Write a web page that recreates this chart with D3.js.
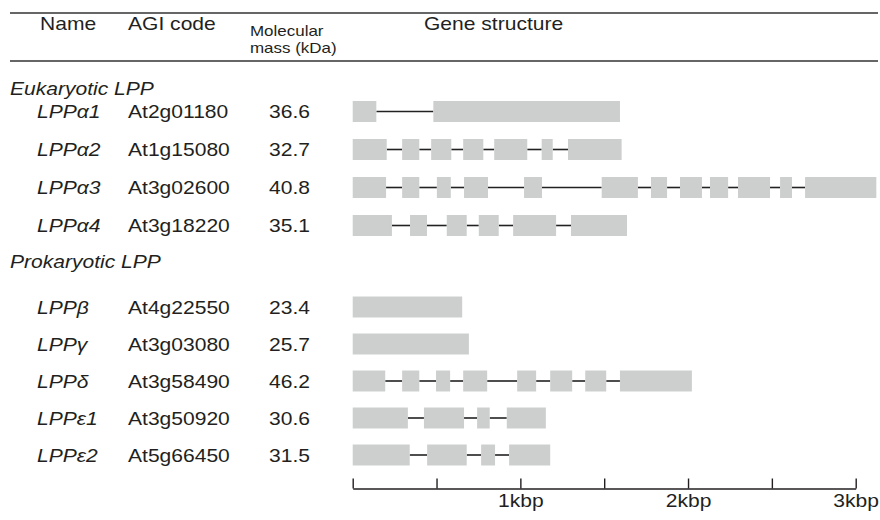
<!DOCTYPE html>
<html>
<head>
<meta charset="utf-8">
<script src="https://cdn.jsdelivr.net/npm/d3@7"></script>
<style>
  body { margin: 0; background: #fff; }
  text { font-family: "Liberation Sans", Arial, Helvetica, sans-serif; fill: #231f20; }
</style>
</head>
<body>
<svg id="drawing_region"></svg>
<script>
// ---- data ----
const headerLabels = ["Name", "AGI code", "Molecular", "mass (kDa)", "Gene structure"];
const groupLabels = ["Eukaryotic LPP", "Prokaryotic LPP"];
const names = ["LPPα1", "LPPα2", "LPPα3", "LPPα4", "LPPβ", "LPPγ", "LPPδ", "LPPε1", "LPPε2"];
const groupOf = [0, 0, 0, 0, 1, 1, 1, 1, 1];
const agiCodes = ["At2g01180", "At1g15080", "At3g02600", "At3g18220",
                  "At4g22550", "At3g03080", "At3g58490", "At3g50920", "At5g66450"];
const masses = ["36.6", "32.7", "40.8", "35.1", "23.4", "25.7", "46.2", "30.6", "31.5"];
// exon start/end in bp
const exons = [
    [[0, 141], [481, 1594]],
    [[0, 203], [295, 397], [468, 588], [659, 779], [844, 1041], [1127, 1193], [1284, 1604]],
    [[0, 199], [295, 397], [502, 585], [664, 807], [1022, 1129], [1485, 1701],
     [1779, 1875], [1952, 2083], [2131, 2239], [2298, 2489], [2549, 2620], [2698, 3123]],
    [[0, 234], [342, 443], [561, 680], [752, 871], [957, 1213], [1302, 1636]],
    [[0, 653]],
    [[0, 693]],
    [[0, 194], [295, 397], [497, 581], [659, 802], [981, 1094], [1178, 1309], [1387, 1512], [1594, 2023]],
    [[0, 329], [425, 664], [742, 817], [919, 1152]],
    [[0, 340], [444, 680], [766, 849], [933, 1178]]
];
const tickValues = [0, 500, 1000, 1500, 2000, 2500, 3000];
const tickLabels = ["", "", "1kbp", "", "2kbp", "", "3kbp"];

// ---- layout ----
const width = 880, height = 520;
const SX = 1.17;           // the figure's type is a little wider than Arial
const fontSize = 18;
const groupLayout = [
    { labelY: 95, firstRow: 111.5, step: 38 },
    { labelY: 268, firstRow: 307, step: 37 }
];
const boxH = 21;
const axisY = 488.5;

const svg = d3.select("#drawing_region")
    .attr("width", width)
    .attr("height", height);

const xscale = d3.scaleLinear()
    .domain([0, 3000])
    .range([352.7, 855.7]);

function rowY(i) {
    const g = groupOf[i];
    const idx = i - groupOf.indexOf(g);
    return groupLayout[g].firstRow + idx * groupLayout[g].step;
}

function addText(x, y, str, size, italic) {
    return svg.append("text")
        .attr("transform", `translate(${x},${y}) scale(${SX},1)`)
        .attr("font-size", size)
        .attr("font-style", italic ? "italic" : "normal")
        .text(str);
}

// rules
[13, 61].forEach(y => {
    svg.append("line")
        .attr("x1", 10).attr("x2", 878)
        .attr("y1", y).attr("y2", y)
        .attr("stroke", "#333")
        .attr("stroke-width", 1.4);
});

// header
addText(40, 30, headerLabels[0], fontSize);
addText(128, 30, headerLabels[1], fontSize);
addText(250, 35.5, headerLabels[2], 14.5);
addText(250, 52.5, headerLabels[3], 14.5);
addText(424, 30, headerLabels[4], fontSize);

// group labels
groupLabels.forEach((label, g) => addText(10, groupLayout[g].labelY, label, fontSize, true));

// table rows
names.forEach((name, i) => {
    const base = rowY(i) + 6.5;
    addText(37, base, name, fontSize, true);
    addText(128, base, agiCodes[i], fontSize);
    addText(269, base, masses[i], fontSize);
});

// gene structures
const genes = svg.append("g");
const rows = genes.selectAll("g.gene")
    .data(exons)
    .join("g")
    .attr("class", "gene")
    .attr("transform", (d, i) => `translate(0,${rowY(i)})`);

rows.selectAll("line")
    .data(d => d.slice(1).map((e, j) => [d[j][1], e[0]]))
    .join("line")
    .attr("x1", d => xscale(d[0]))
    .attr("x2", d => xscale(d[1]))
    .attr("y1", 0).attr("y2", 0)
    .attr("stroke", "#222")
    .attr("stroke-width", 1.6);

rows.selectAll("rect")
    .data(d => d)
    .join("rect")
    .attr("x", d => xscale(d[0]))
    .attr("width", d => xscale(d[1]) - xscale(d[0]))
    .attr("y", -boxH / 2)
    .attr("height", boxH)
    .attr("fill", "#cdcfcf");

// scale bar
const xaxis = d3.axisBottom(xscale)
    .tickValues(tickValues)
    .tickFormat((d, i) => tickLabels[i])
    .tickSizeInner(-10)
    .tickSizeOuter(0)
    .tickPadding(6);

const axisGroup = svg.append("g")
    .attr("transform", `translate(0,${axisY})`)
    .call(xaxis);
axisGroup.select(".domain").attr("stroke", "#231f20").attr("stroke-width", 1.4);
axisGroup.selectAll(".tick line").attr("stroke", "#231f20").attr("stroke-width", 1.4);
axisGroup.selectAll(".tick text")
    .attr("font-size", fontSize)
    .attr("font-family", null)
    .attr("fill", null)
    .attr("transform", `scale(${SX},1)`);
axisGroup.attr("font-family", null).attr("font-size", null);
</script>
</body>
</html>
